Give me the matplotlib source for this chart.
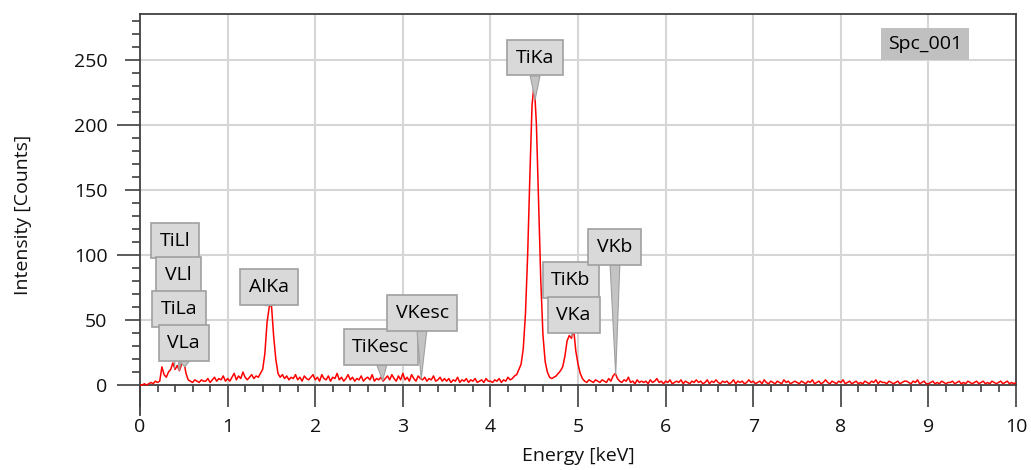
import numpy as np
import matplotlib.pyplot as plt

plt.rcParams['font.family'] = ['Open Sans', 'DejaVu Sans']

# spectrum, 0 - 10 keV in 0.025 keV steps (counts)
energy = np.arange(401) * 0.025
counts = [
    0, 0, 1, 0, 1, 2, 1, 3, 2, 3,
    14, 8, 6, 10, 12, 17, 12, 15, 11, 16,
    18, 9, 4, 3, 2, 4, 3, 2, 4, 3,
    3, 5, 2, 4, 6, 3, 5, 4, 7, 3,
    5, 3, 6, 9, 4, 7, 5, 10, 6, 4,
    6, 8, 5, 7, 6, 9, 12, 24, 48, 60,
    62, 38, 20, 9, 6, 8, 5, 7, 4, 6,
    5, 8, 4, 6, 3, 7, 5, 4, 6, 8,
    4, 6, 3, 8, 5, 4, 7, 3, 6, 5,
    9, 4, 6, 3, 5, 8, 4, 6, 3, 5,
    4, 7, 3, 5, 6, 4, 8, 3, 5, 4,
    6, 3, 5, 7, 4, 8, 5, 3, 7, 4,
    9, 4, 6, 3, 8, 5, 3, 7, 5, 4,
    6, 3, 5, 4, 7, 3, 4, 6, 3, 5,
    3, 5, 2, 4, 3, 6, 2, 4, 3, 5,
    2, 4, 3, 5, 2, 3, 4, 2, 5, 3,
    3, 2, 4, 3, 5, 2, 4, 3, 6, 4,
    5, 7, 8, 12, 16, 28, 55, 100, 160, 215,
    232, 200, 140, 80, 38, 18, 10, 6, 5, 6,
    7, 9, 11, 14, 22, 34, 38, 36, 43, 26,
    16, 9, 5, 3, 2, 4, 3, 2, 4, 3,
    2, 4, 3, 2, 5, 3, 7, 9, 5, 3,
    2, 4, 3, 6, 2, 3, 1, 4, 2, 3,
    2, 3, 1, 4, 2, 3, 5, 2, 3, 1,
    3, 2, 4, 1, 2, 3, 2, 4, 1, 3,
    2, 1, 3, 2, 4, 2, 3, 1, 2, 4,
    1, 3, 2, 4, 2, 1, 3, 2, 3, 1,
    2, 4, 1, 3, 2, 3, 1, 2, 4, 2,
    3, 1, 2, 3, 1, 4, 2, 1, 3, 2,
    1, 3, 2, 1, 4, 2, 3, 1, 2, 3,
    2, 1, 3, 2, 1, 3, 2, 4, 1, 2,
    3, 1, 2, 4, 2, 1, 3, 2, 1, 3,
    2, 4, 1, 2, 3, 1, 2, 3, 1, 2,
    1, 3, 2, 1, 3, 2, 4, 1, 3, 2,
    2, 1, 3, 2, 1, 2, 3, 1, 2, 3,
    3, 2, 1, 3, 2, 4, 1, 2, 3, 1,
    1, 2, 3, 1, 2, 1, 3, 2, 1, 2,
    2, 3, 1, 2, 3, 1, 2, 1, 3, 2,
    1, 2, 3, 1, 2, 3, 1, 2, 1, 3,
    2, 1, 2, 3, 1, 2, 3, 1, 2, 1,
    2,
]

# element lines
line_names = ['TiLl', 'VLl', 'TiLa', 'VLa', 'AlKa', 'TiKesc', 'VKesc',
              'TiKa', 'TiKb', 'VKa', 'VKb']
line_energies = [0.395, 0.446, 0.452, 0.511, 1.487, 2.77, 3.21,
                 4.51, 4.93, 4.95, 5.43]
spectrum_name = 'Spc_001'

# label box positions (data coords)
box_pos = [(0.40, 111), (0.44, 84.6), (0.45, 58.5), (0.50, 32.3),
           (1.47, 75.4), (2.75, 29.2), (3.22, 55.4), (4.51, 251.5),
           (4.92, 80.8), (4.95, 53.8), (5.42, 106.2)]

fig = plt.figure(figsize=(10.31, 4.70), dpi=100)
ax = fig.add_axes([0.1358, 0.117, 0.8497, 0.8532])

ymin, ymax = -23, 285
ax.set_xlim(0, 10)
ax.set_ylim(ymin, ymax)

# grid
ax.set_yticks(np.arange(0, 251, 50))
ax.set_yticks(np.arange(0, 281, 10), minor=True)
ax.set_xticks(np.arange(0, 11, 1))
ax.set_xticks(np.arange(0, 10.01, 0.2), minor=True)
for y in np.arange(50, 251, 50):
    ax.axhline(y, color='#d6d6d6', lw=1.5, zorder=0)
for x in np.arange(1, 10, 1):
    ax.axvline(x, ymin=(0 - ymin) / (ymax - ymin), ymax=1, color='#d6d6d6', lw=1.5, zorder=0)

ax.plot(energy, counts, color='#ff0000', lw=1.1, zorder=3)

# spines
for s in ['left', 'right', 'top', 'bottom']:
    ax.spines[s].set_color('#404040')
    ax.spines[s].set_linewidth(1.3)
ax.spines['bottom'].set_position(('data', 0))
ax.spines['right'].set_bounds(0, ymax)

ax.tick_params(axis='both', which='both', color='#404040', width=1.2, labelsize=14,
               labelcolor='#111111')
ax.tick_params(axis='x', which='major', direction='out', length=15.8, pad=8)
ax.tick_params(axis='x', which='minor', direction='out', length=5)
ax.tick_params(axis='y', which='major', direction='out', length=16.5, pad=7)
ax.tick_params(axis='y', which='minor', direction='out', length=5.8)
for val, tick in zip(np.arange(0, 251, 50), ax.yaxis.get_major_ticks()):
    if val % 100 != 0:
        tick.tick1line.set_markersize(10.8)

ax.set_xlabel('Energy [keV]', fontsize=14, color='#111111', labelpad=8)
ax.set_ylabel('Intensity [Counts]', fontsize=14, color='#111111', labelpad=30)

# peak labels
for name, e, (bx, by) in zip(line_names, line_energies, box_pos):
    tip = np.interp(e, energy, counts)
    ax.annotate(name, xy=(e, tip), xytext=(bx, by), ha='center', va='center',
                fontsize=14, color='#000000', zorder=5,
                bbox=dict(boxstyle='square,pad=0.45', fc='#d9d9d9', ec='#a0a0a0', lw=1.2),
                arrowprops=dict(arrowstyle='wedge,tail_width=0.5', fc='#c4c4c4',
                                ec='#a0a0a0', lw=0.8, shrinkA=0, shrinkB=0))

ax.text(0.896, 0.925, spectrum_name, transform=ax.transAxes, ha='center', va='center',
        fontsize=14, color='#000000', zorder=5,
        bbox=dict(boxstyle='square,pad=0.35', fc='#c0c0c0', ec='none'))

fig.savefig('out.png', dpi=100)
